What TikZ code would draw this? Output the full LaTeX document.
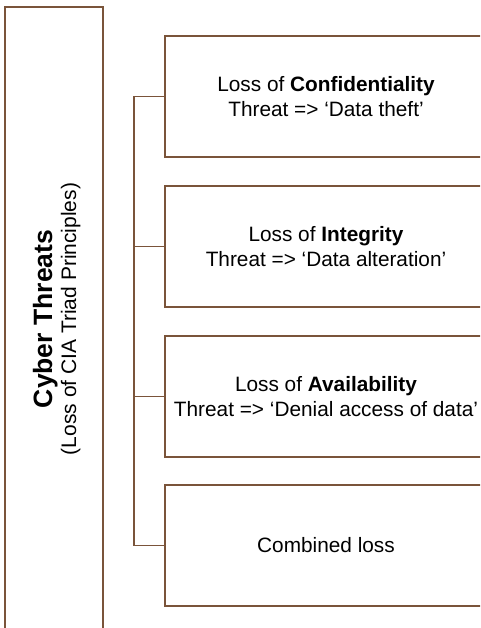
\documentclass[tikz,border=0pt]{standalone}
\usepackage{fontspec}
\setmainfont{Liberation Sans}
\definecolor{bro}{RGB}{122,84,58}
\begin{document}
\begin{tikzpicture}[x=1pt,y=-1pt,
  frame/.style={draw=bro, line width=1.3pt, inner sep=0pt},
  item/.style={frame, minimum width=322pt, minimum height=121pt, align=center,
    font=\fontsize{20.8}{24.5}\selectfont},
  link/.style={draw=bro, line width=1.3pt}]
\useasboundingbox (0,0) rectangle (480,628);
\clip (0,0) rectangle (480,628);
\node[frame, minimum width=98pt, minimum height=624pt] (cyber) at (54,319) {};
\node[rotate=90, anchor=base, inner sep=0pt, font=\fontsize{26.5}{30}\selectfont\bfseries] (title) at (52,319) {Cyber Threats};
\node[rotate=90, anchor=base, inner sep=0pt, font=\fontsize{21}{25}\selectfont] (sub) at (76,319) {(Loss of CIA Triad Principles)};
\node[item] (conf) at (326,96.5) {Loss of \textbf{Confidentiality}\\Threat => ‘Data theft’};
\node[item] (integ) at (326,246.5) {Loss of \textbf{Integrity}\\Threat => ‘Data alteration’};
\node[item] (avail) at (326,396.5) {Loss of \textbf{Availability}\\Threat => ‘Denial access of data’};
\node[item] (comb) at (326,545.5) {Combined loss};
\coordinate (spine) at (134,0);
\draw[link] (conf.west) -- (conf.west -| spine) -- (comb.west -| spine) -- (comb.west);
\draw[link] (integ.west) -- (integ.west -| spine);
\draw[link] (avail.west) -- (avail.west -| spine);
\end{tikzpicture}
\end{document}
